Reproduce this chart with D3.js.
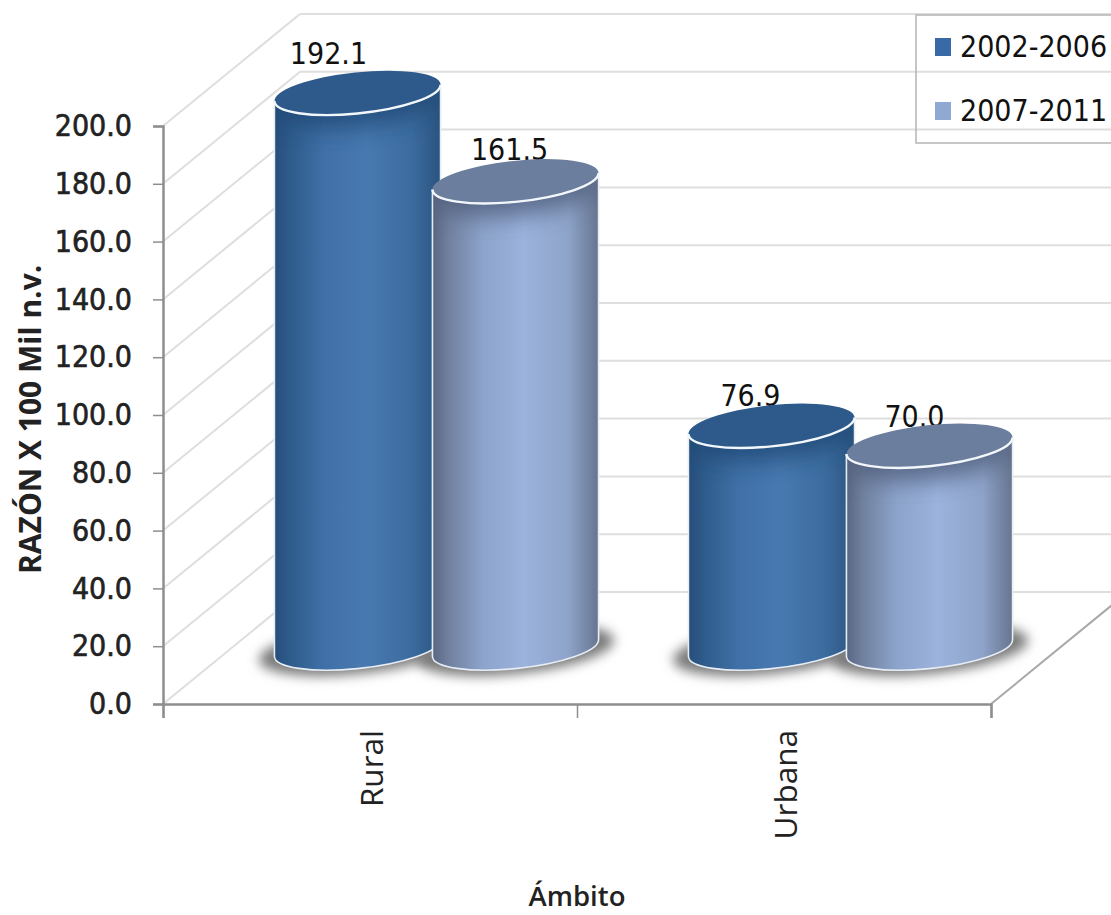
<!DOCTYPE html>
<html>
<head>
<meta charset="utf-8">
<script src="https://cdn.jsdelivr.net/npm/d3@7"></script>
<style>
html, body { margin: 0; padding: 0; background: #fff; }
svg { display: block; }
</style>
</head>
<body>
<svg id="chart" width="1111" height="915"></svg>
<script>
// Razón por ámbito y quinquenio
const categories = ["Rural", "Urbana"];
const periods = ["2002-2006", "2007-2011"];
const values2002 = [192.1, 76.9];
const values2007 = [161.5, 70.0];
const yTicks = [0, 20, 40, 60, 80, 100, 120, 140, 160, 180, 200];

const W = 1111, H = 915;
const svg = d3.select("#chart").attr("viewBox", `0 0 ${W} ${H}`);

// Oblique projection: depth of the plot box; cylinders stand near its mid-depth plane
const depthX = 137, depthY = 112;
const x0 = d3.scaleBand().domain(categories).range([163, 991]);
const x1 = d3.scaleBand().domain(periods).range([0, x0.bandwidth()]).paddingInner(0).paddingOuter(0.31);
const y = d3.scaleLinear().domain([0, 200]).range([704, 126]);

const rx = 83.5, ry = 20.5, tilt = -6;
const rad = tilt * Math.PI / 180;
const edgeDx = Math.sqrt(rx * rx * Math.cos(rad) ** 2 + ry * ry * Math.sin(rad) ** 2);
const edgeDy = (rx * rx - ry * ry) * Math.sin(rad) * Math.cos(rad) / edgeDx;

const defs = svg.append("defs");
function sideGradient(id, stops) {
  const g = defs.append("linearGradient").attr("id", id).attr("x1", 0).attr("x2", 1).attr("y1", 0).attr("y2", 0);
  stops.forEach(([o, c]) => g.append("stop").attr("offset", o).attr("stop-color", c));
}
sideGradient("side0", [[0, "#264e7b"], [0.1, "#2f5c8c"], [0.3, "#4070a7"], [0.55, "#4879b0"], [0.82, "#3c6c9f"], [1, "#2a5480"]]);
sideGradient("side1", [[0, "#596683"], [0.1, "#71819f"], [0.3, "#8ca3ca"], [0.55, "#9bb3dd"], [0.82, "#8ea3c9"], [1, "#66758f"]]);
function blur(id, sd) {
  defs.append("filter").attr("id", id).attr("x", "-30%").attr("y", "-100%").attr("width", "160%").attr("height", "300%")
    .append("feGaussianBlur").attr("stdDeviation", sd);
}
blur("soft", 6);
blur("softer", 11);

const sideFill = ["url(#side0)", "url(#side1)"];
const topFill = ["#2d5a8b", "#6c7e9e"];
const collarFill = ["#1d4471", "#4a5773"];
const swatchFill = ["#3a6aa5", "#8fa9d2"];

// Back wall, side wall and floor
const gridColor = "#dedede";
const grid = svg.append("g");
grid.selectAll("line.back").data(yTicks).join("line").attr("class", "back")
  .attr("x1", 163 + depthX).attr("x2", W)
  .attr("y1", d => y(d) - depthY).attr("y2", d => y(d) - depthY)
  .attr("stroke", gridColor).attr("stroke-width", 2);
grid.selectAll("line.side").data(yTicks).join("line").attr("class", "side")
  .attr("x1", 163).attr("x2", 163 + depthX)
  .attr("y1", d => y(d)).attr("y2", d => y(d) - depthY)
  .attr("stroke", gridColor).attr("stroke-width", 2);
svg.append("line")
  .attr("x1", 991).attr("y1", y(0)).attr("x2", 991 + depthX).attr("y2", y(0) - depthY)
  .attr("stroke", "#a8a8a8").attr("stroke-width", 2);

// Axes
const yAxis = d3.axisLeft(y).tickValues(yTicks).tickFormat(d3.format(".1f")).tickSizeOuter(0).tickSize(10).tickPadding(21);
const gy = svg.append("g").attr("transform", "translate(163,0)").call(yAxis);
const xAxisScale = d3.scaleLinear().domain([0, categories.length]).range([163, 991]);
const xAxis = d3.axisBottom(xAxisScale).tickValues(d3.range(categories.length + 1)).tickFormat("").tickSizeOuter(0).tickSize(14);
const gx = svg.append("g").attr("transform", `translate(0,${y(0)})`).call(xAxis);
gy.selectAll("line").attr("stroke", "#8e8e8e").attr("stroke-width", 1.5);
gx.selectAll("line").attr("stroke", "#8e8e8e").attr("stroke-width", 1.5);
[gy, gx].forEach(g => g.select("path.domain").attr("stroke", "#8e8e8e").attr("stroke-width", 2.5));
gy.selectAll("text")
  .attr("font-family", "'DejaVu Sans Condensed', 'DejaVu Sans'").attr("font-size", 30)
  .attr("fill", "#222").attr("stroke", "#222").attr("stroke-width", 0.6);

const rows = [];
categories.forEach((c, i) => {
  periods.forEach((p, j) => rows.push({ id: i * 2 + j, c, p, j, v: [values2002, values2007][j][i] }));
});
const centerX = d => x0(d.c) + x1(d.p) + x1.bandwidth() / 2 + depthX / 2 - 2;
const h = d => y(0) - y(d.v);
const baseY = y(0) - depthY / 2;

// Value labels lie behind the cylinders, so a top rim can cover their foot
const labelShift = [[-29, -29], [-6, -21], [-21, -20], [-15, -19]];
svg.append("g").selectAll("text").data(rows).join("text")
  .attr("x", d => centerX(d) + labelShift[d.id][0])
  .attr("y", d => baseY - h(d) + labelShift[d.id][1])
  .attr("text-anchor", "middle")
  .attr("font-family", "'DejaVu Sans Condensed', 'DejaVu Sans'").attr("font-size", 30).attr("fill", "#111")
  .text(d => d3.format(".1f")(d.v));

// Floor shadows under every cylinder
svg.append("g").selectAll("ellipse").data(rows).join("ellipse")
  .attr("rx", 99).attr("ry", 24)
  .attr("transform", d => `translate(${centerX(d)},${baseY + 2}) rotate(${tilt})`)
  .attr("fill", "#7a7a7a").attr("filter", "url(#soft)");

// Cylinders, back to front inside each category
const cyl = svg.append("g").selectAll("g").data(rows).join("g")
  .attr("transform", d => `translate(${centerX(d)},${baseY})`);
const arc = sweep => `A${rx},${ry} ${tilt} 0 ${sweep} `;
const sidePath = d => `M${-edgeDx},${-edgeDy - h(d)} L${-edgeDx},${-edgeDy} ${arc(0)}${edgeDx},${edgeDy} L${edgeDx},${edgeDy - h(d)} ${arc(1)}${-edgeDx},${-edgeDy - h(d)} Z`;

defs.selectAll("clipPath").data(rows).join("clipPath")
  .attr("id", d => `body${d.id}`)
  .append("path").attr("d", sidePath);

cyl.append("path").attr("d", sidePath).attr("fill", d => sideFill[d.j]);
// Darker collar just under the top rim
cyl.append("g").attr("clip-path", d => `url(#body${d.id})`)
  .append("ellipse")
  .attr("rx", rx).attr("ry", ry + 6)
  .attr("transform", d => `translate(0,${-h(d) + 8}) rotate(${tilt})`)
  .attr("fill", d => collarFill[d.j]).attr("opacity", 0.75).attr("filter", "url(#softer)");
cyl.append("path")
  .attr("d", d => `M${-edgeDx},${-edgeDy - h(d)} L${-edgeDx},${-edgeDy} ${arc(0)}${edgeDx},${edgeDy} L${edgeDx},${edgeDy - h(d)}`)
  .attr("fill", "none").attr("stroke", "#e6edf5").attr("stroke-width", 1.6);
cyl.append("ellipse")
  .attr("rx", rx).attr("ry", ry)
  .attr("transform", d => `translate(0,${-h(d)}) rotate(${tilt})`)
  .attr("fill", d => topFill[d.j]);
cyl.append("path")
  .attr("d", d => `M${-edgeDx},${-edgeDy - h(d)} ${arc(0)}${edgeDx},${edgeDy - h(d)}`)
  .attr("fill", "none").attr("stroke", "#f2f7fc").attr("stroke-width", 2.4);

// Axis titles and category labels
const labelFont = "'Open Sans'";
svg.append("g").selectAll("text").data(categories).join("text")
  .attr("transform", d => `translate(${x0(d) + x0.bandwidth() / 2 + 13},730) rotate(-90)`)
  .attr("text-anchor", "end")
  .attr("font-family", labelFont).attr("font-size", 31.5).attr("font-weight", 500).attr("fill", "#222")
  .text(d => d);
svg.append("text")
  .attr("transform", "translate(41,574) rotate(-90)")
  .attr("font-family", labelFont).attr("font-weight", 700).attr("font-size", 30).attr("fill", "#222")
  .text("RAZÓN X 100 Mil n.v.");
svg.append("text")
  .attr("x", 577).attr("y", 906).attr("text-anchor", "middle")
  .attr("font-family", labelFont).attr("font-weight", 600).attr("font-size", 27.5).attr("fill", "#222")
  .text("Ámbito");

// Legend: its box is transparent, so the back-wall lines run through it
const legend = svg.append("g");
legend.append("rect").attr("x", 916).attr("y", 15).attr("width", 210).attr("height", 128)
  .attr("fill", "none").attr("stroke", "#b4b4b4").attr("stroke-width", 1.5);
const legendY = d3.scalePoint().domain(periods).range([47, 111]);
legend.selectAll("rect.swatch").data(periods).join("rect").attr("class", "swatch")
  .attr("x", 935).attr("y", d => legendY(d) - 9).attr("width", 16).attr("height", 18)
  .attr("fill", (d, i) => swatchFill[i]);
legend.selectAll("text").data(periods).join("text")
  .attr("x", 960).attr("y", d => legendY(d) + 10)
  .attr("font-family", "'DejaVu Sans Condensed', 'DejaVu Sans'").attr("font-size", 30).attr("fill", "#111")
  .text(d => d);
</script>
</body>
</html>
